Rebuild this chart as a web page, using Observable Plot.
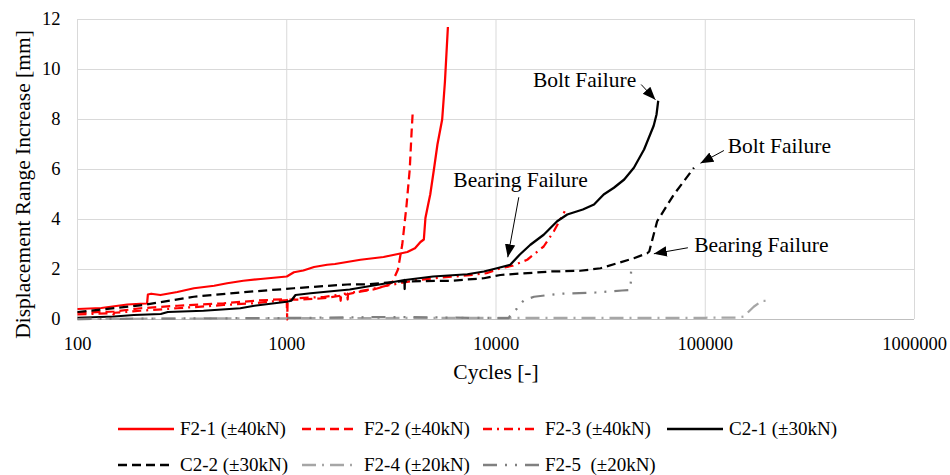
<!DOCTYPE html>
<html><head><meta charset="utf-8">
<script src="https://cdn.jsdelivr.net/npm/d3@7"></script>
<script src="https://cdn.jsdelivr.net/npm/@observablehq/plot@0.6"></script>
<style>
body{margin:0;background:#fff;font-family:"Liberation Serif","Times New Roman",serif;}
#wrap{position:relative;width:950px;height:475px;overflow:hidden;}
#wrap svg{display:block;}
.leg{position:absolute;display:flex;align-items:center;font-size:19px;white-space:pre;color:#000;height:24px;}
.leg svg{margin-right:6px;}
</style></head><body><div id="wrap"></div>
<script>
// ---- data (cycles vs. displacement range increase [mm]) ----
const cyclesF21 = [100,130,144,173,200,215,217,225,249,300,360,450,519,620,750,1000,1082,1200,1350,1560,1700,2250,2900,3400,3770,4100,4355,4520,4600,4740,4850,5050,5250,5530,5700,5890];
const dispF21   = [0.42,0.46,0.51,0.6,0.63,0.64,1.0,1.03,0.98,1.1,1.25,1.35,1.45,1.55,1.62,1.72,1.89,1.96,2.1,2.19,2.22,2.39,2.5,2.62,2.7,2.85,3.1,3.2,4.06,4.6,5.0,6.0,7.0,8.0,9.5,11.7];

const cyclesF22 = [100,150,200,300,500,700,1000,1005,1010,1200,1500,1800,2200,2600,3000,3200,3400,3565,3730,3870,3950,4000];
const dispF22   = [0.27,0.32,0.45,0.55,0.65,0.75,0.82,0.0,0.8,0.8,0.85,0.95,1.1,1.2,1.35,1.5,2.0,3.0,4.5,6.0,7.5,8.3];

const cyclesF23 = [100,140,145,150,200,300,500,700,1000,1100,1500,1800,1810,1820,1945,1955,1965,2500,3000,4000,5000,7000,9000,10500,12000,14100,16900,18900,21300];
const dispF23   = [0.2,0.25,0.0,0.27,0.35,0.45,0.58,0.65,0.78,0.85,0.9,1.0,0.75,1.0,1.05,0.8,1.05,1.2,1.35,1.55,1.65,1.75,1.85,2.05,2.15,2.39,2.92,3.53,4.33];

const cyclesC21 = [100,150,186,250,270,400,600,700,1000,1050,1101,1300,2000,3000,3650,3660,3670,5000,7300,8750,10100,11700,13000,14600,16900,19600,21900,26000,29400,32700,36600,41000,45600,51000,56700,58500,59600];
const dispC21   = [0.07,0.12,0.18,0.22,0.3,0.35,0.45,0.55,0.71,0.75,0.98,1.05,1.2,1.45,1.58,1.22,1.58,1.72,1.81,1.92,2.05,2.19,2.6,2.99,3.39,3.93,4.2,4.4,4.6,5.0,5.27,5.6,6.07,6.8,7.75,8.2,8.75];

const cyclesC22 = [100,207,360,623,1082,1945,2421,3500,6070,8750,10500,18200,25300,31600,45600,52800,54000,58900,70800,88300];
const dispC22   = [0.3,0.58,0.91,1.09,1.25,1.4,1.41,1.52,1.55,1.65,1.78,1.92,1.95,2.05,2.45,2.65,2.72,3.93,5.0,6.07];

const cyclesF24 = [100,1000,10000,100000,140000,152800,170500,187000,197700];
const dispF24   = [0.02,0.05,0.07,0.07,0.08,0.12,0.51,0.75,0.75];

const cyclesF25 = [100,1000,3000,10000,11500,11700,12600,13600,15200,20000,30000,40000,43500,44000,44200];
const dispF25   = [0.02,0.06,0.1,0.06,0.06,0.16,0.44,0.78,0.91,1.03,1.08,1.16,1.18,1.25,1.92];

const seriesNames  = ["F2-1 (±40kN)","F2-2 (±40kN)","F2-3 (±40kN)","C2-1 (±30kN)","C2-2 (±30kN)","F2-4 (±20kN)","F2-5  (±20kN)"];
const seriesCycles = [cyclesF21,cyclesF22,cyclesF23,cyclesC21,cyclesC22,cyclesF24,cyclesF25];
const seriesDisp   = [dispF21,dispF22,dispF23,dispC21,dispC22,dispF24,dispF25];
const seriesColors = ["#FF0000","#FF0000","#FF0000","#000000","#000000","#A6A6A6","#808080"];
const seriesDash   = [null,"9,5","9,5,2,5",null,"9,5","14,6,2,6","14,8,2,8,2,8"];

const xTicks = [100,1000,10000,100000,1000000];
const yTicks = [0,2,4,6,8,10,12];

// annotations (data space)
const annoText = ["Bolt Failure","Bolt Failure","Bearing Failure","Bearing Failure"];
const annoX    = [26500,226000,13100,185400];
const annoY    = [9.56,6.92,5.59,2.96];
const arrowX1  = [49400,122800,12850,82600];
const arrowY1  = [9.4,6.76,4.89,2.87];
const arrowX2  = [57800,94800,11380,56800];
const arrowY2  = [8.79,6.25,2.49,2.63];

// ---- build ----
const rows = seriesNames.flatMap((n,k) => seriesCycles[k].map((c,i) => ({series:n, cycles:c, disp:seriesDisp[k][i]})));
const annos = annoText.map((t,i) => ({t, x:annoX[i], y:annoY[i]}));
const arrows = arrowX1.map((x1,i) => ({x1, y1:arrowY1[i], x2:arrowX2[i], y2:arrowY2[i]}));

const lineMarks = seriesNames.map((n,k) => Plot.line(rows.filter(r => r.series === n), {
  x:"cycles", y:"disp", stroke:seriesColors[k], strokeWidth:2.25,
  strokeDasharray: seriesDash[k] || undefined, strokeLinejoin:"round", strokeLinecap:"butt"
}));

const chart = Plot.plot({
  width:950, height:400,
  marginLeft:77, marginRight:36, marginTop:19, marginBottom:81,
  style:{fontFamily:"Liberation Serif, Times New Roman, serif", fontSize:"18.5px", background:"#fff", color:"#000", overflow:"visible"},
  x:{type:"log", domain:[100,1000000], ticks:xTicks, tickFormat:d3.format("d"), tickSize:0, tickPadding:17, label:null},
  y:{domain:[0,12], ticks:yTicks, tickSize:0, tickPadding:17, label:null},
  marks:[
    Plot.gridX(xTicks, {stroke:"#d9d9d9", strokeOpacity:1, strokeWidth:1}),
    Plot.gridY(yTicks, {stroke:"#d9d9d9", strokeOpacity:1, strokeWidth:1}),
    Plot.ruleY([0], {stroke:"#bfbfbf", strokeWidth:1}),
    ...lineMarks,
    Plot.link(arrows, {x1:"x1", y1:"y1", x2:"x2", y2:"y2", stroke:"#000", strokeWidth:1, markerEnd:"arrow"}),
    Plot.text(annos, {x:"x", y:"y", text:"t", fontSize:21.5, fill:"#000", textAnchor:"middle"}),
    Plot.text(["Cycles [-]"], {frameAnchor:"bottom", dy:53, fontSize:21.5, fill:"#000", textAnchor:"middle", lineAnchor:"middle"}),
    Plot.text(["Displacement Range Increase [mm]"], {frameAnchor:"left", dx:-54, dy:15, rotate:-90, fontSize:21.5, fill:"#000", textAnchor:"middle", lineAnchor:"middle"})
  ]
});

// filled arrowheads
chart.querySelectorAll("marker").forEach(m => {
  m.setAttribute("viewBox","-10 -5 10 10");
  m.setAttribute("markerWidth","13");
  m.setAttribute("markerHeight","13");
  m.setAttribute("fill","#000");
  m.setAttribute("stroke","none");
  const p = m.querySelector("path");
  if (p) p.setAttribute("d","M-10,-4L0,0L-10,4Z");
});

const wrap = document.getElementById("wrap");
wrap.appendChild(chart);

// legend
const legX = [118,302,483,667,118,302,483];
const legY = [429,429,429,429,465,465,465];
seriesNames.forEach((n,k) => {
  const d = document.createElement("div");
  d.className = "leg";
  d.style.left = legX[k] + "px";
  d.style.top = (legY[k] - 12) + "px";
  const dash = seriesDash[k] ? `stroke-dasharray="${seriesDash[k]}"` : "";
  d.innerHTML = `<svg width="56" height="10"><line x1="0" y1="5" x2="56" y2="5" stroke="${seriesColors[k]}" stroke-width="2.5" ${dash}/></svg><span>${n}</span>`;
  wrap.appendChild(d);
});
</script>
</body></html>
